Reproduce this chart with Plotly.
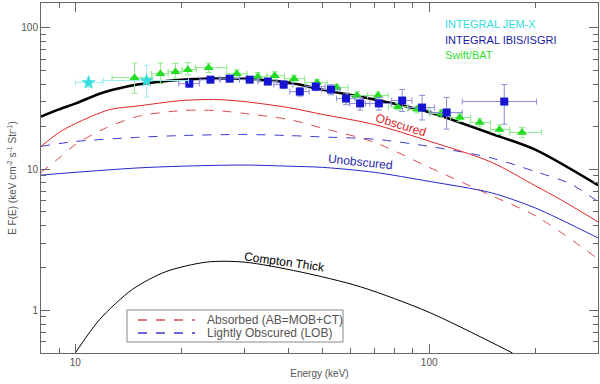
import numpy as np
import plotly.graph_objects as go

# ---- data ----
# model curves (energy in keV, E F(E))
total_e = [8, 9, 10, 12, 15, 20, 25, 30, 40, 50, 70, 100, 150, 200, 300]
total_f = [23.6, 26.5, 29.1, 34.9, 39.7, 43.0, 43.8, 43.7, 41.0, 36.5, 31.1, 25.3, 17.8, 13.7, 7.7]

obsc_e = [8, 9, 10, 12.5, 15, 20, 25, 30, 40, 50, 70, 100, 150, 200, 235, 300]
obsc_f = [14.5, 18.2, 21.0, 26.4, 28.0, 30.6, 31.1, 30.1, 27.3, 24.4, 20.7, 15.8, 11.2, 7.6, 6.1, 4.24]

unobsc_e = [8, 10, 15, 20, 30, 40, 50, 70, 100, 150, 200, 300]
unobsc_f = [9.07, 9.5, 10.2, 10.5, 10.7, 10.5, 10.3, 9.5, 8.2, 6.8, 5.3, 3.26]

absorbed_e = [8, 9, 10, 12, 15, 20, 25, 30, 40, 50, 70, 100, 150, 200, 300]
absorbed_f = [9.5, 12.0, 14.9, 19.2, 23.6, 26.0, 26.0, 24.8, 22.5, 19.5, 15.5, 10.3, 6.5, 4.67, 2.32]

lob_e = [8, 10, 15, 20, 30, 40, 50, 70, 100, 150, 200, 250, 300]
lob_f = [14.5, 15.7, 16.8, 17.3, 17.6, 17.3, 16.9, 16.3, 14.5, 12.0, 9.6, 7.9, 5.9]

ct_e = [10, 11.7, 14.5, 18, 23.5, 30, 43, 64, 100, 172]
ct_f = [0.5, 0.86, 1.41, 1.88, 2.2, 2.2, 1.88, 1.47, 0.97, 0.5]

# INTEGRAL JEM-X
jemx_e = [10.9, 15.9]
jemx_f = [41.0, 42.4]
jemx_elo = [0.9, 3.9]
jemx_ehi = [1.0, 5.0]
jemx_flo = [3.2, 10.0]
jemx_fhi = [3.5, 12.0]

# INTEGRAL IBIS/ISGRI
isgri_e = [21.0, 24.1, 27.3, 31.1, 35.0, 38.8, 43.1, 47.8, 52.8, 58.2, 63.8, 72.1, 83.9, 95.5, 112, 163]
isgri_f = [40.3, 43.0, 43.7, 43.0, 41.7, 39.7, 35.4, 38.4, 36.6, 31.6, 29.2, 29.2, 30.6, 27.3, 25.2, 30.1]
isgri_elo = [1.4, 1.6, 1.8, 2.0, 2.2, 2.4, 2.7, 3.0, 3.2, 3.5, 4.2, 6.0, 5.5, 8.0, 11, 39]
isgri_ehi = [1.4, 1.6, 1.8, 2.0, 2.2, 2.4, 2.7, 3.0, 3.2, 3.5, 4.2, 6.0, 5.5, 8.0, 12, 38]
isgri_flo = [2.0, 2.0, 2.0, 2.0, 2.0, 2.5, 2.5, 2.5, 3.0, 3.0, 3.0, 3.0, 5.0, 5.0, 6.0, 9.3]
isgri_fhi = [2.0, 2.0, 2.0, 2.0, 2.0, 2.5, 2.5, 2.5, 3.0, 3.0, 3.0, 3.0, 6.0, 6.0, 7.0, 9.6]

# Swift/BAT
bat_e = [14.7, 17.4, 19.2, 20.8, 23.8, 28.6, 32.8, 36.6, 41.5, 48.2, 54.8, 62.5, 71.7, 81.7, 92.5, 108, 122, 139, 158, 183]
bat_f = [44.4, 47.4, 49.0, 50.6, 52.3, 47.4, 45.2, 45.9, 43.7, 41.0, 37.8, 33.2, 33.2, 27.7, 26.5, 24.8, 23.2, 21.4, 19.1, 18.2]
bat_elo = [2.0, 1.0, 0.9, 0.8, 2.0, 1.8, 2.2, 1.8, 2.5, 3.7, 3.3, 3.7, 4.7, 5.0, 5.5, 8.0, 7.0, 8.0, 9.0, 14]
bat_ehi = [1.8, 0.9, 0.8, 1.2, 3.0, 2.0, 2.0, 2.4, 3.0, 3.3, 4.2, 4.5, 5.0, 5.3, 7.5, 7.0, 9.0, 10, 11, 25]
bat_flo = [10, 7, 5, 4, 4, 3, 3, 3, 2.5, 2, 2, 2, 2, 1.5, 1.5, 1.5, 1.5, 1.5, 1.5, 1.5]
bat_fhi = [12, 9, 7, 6, 4, 3, 3, 3, 2.5, 2, 2, 2, 2, 1.5, 1.5, 1.5, 1.5, 1.5, 1.5, 1.5]

x_major = [10, 100]
x_minor = [8, 9, 20, 30, 40, 50, 60, 70, 80, 90, 200, 300]
y_major = [1, 10, 100]
y_minor = [0.5, 0.6, 0.7, 0.8, 0.9, 2, 3, 4, 5, 6, 7, 8, 9, 20, 30, 40, 50, 60, 70, 80, 90]

legend_labels = ['Absorbed (AB=MOB+CT)', 'Lightly Obscured (LOB)']
legend_colors = ['#e04848', '#3a3ad0']

AXIS_GRAY = '#666666'
TEXT_GRAY = '#555555'
FONT = 'Liberation Sans, Arial, sans-serif'

fig = go.Figure()

# model curves
fig.add_trace(go.Scatter(x=ct_e, y=ct_f, mode='lines', line=dict(color='black', width=1, shape='spline', smoothing=0.8)))
fig.add_trace(go.Scatter(x=absorbed_e, y=absorbed_f, mode='lines',
                         line=dict(color=legend_colors[0], width=1, dash='dash', shape='spline', smoothing=0.8)))
fig.add_trace(go.Scatter(x=lob_e, y=lob_f, mode='lines',
                         line=dict(color=legend_colors[1], width=1, dash='dash', shape='spline', smoothing=0.8)))
fig.add_trace(go.Scatter(x=unobsc_e, y=unobsc_f, mode='lines', line=dict(color='#2626c8', width=1, shape='spline', smoothing=0.8)))
fig.add_trace(go.Scatter(x=obsc_e, y=obsc_f, mode='lines', line=dict(color='#e02424', width=1, shape='spline', smoothing=0.8)))
fig.add_trace(go.Scatter(x=total_e, y=total_f, mode='lines', line=dict(color='black', width=2.5, shape='spline', smoothing=0.8)))

# data points
fig.add_trace(go.Scatter(
    x=bat_e, y=bat_f, mode='markers',
    marker=dict(symbol='triangle-up', size=9, color='#22dd22'),
    error_x=dict(type='data', symmetric=False, array=bat_ehi, arrayminus=bat_elo, color='#8fe88f', thickness=1, width=3),
    error_y=dict(type='data', symmetric=False, array=bat_fhi, arrayminus=bat_flo, color='#8fe88f', thickness=1, width=3),
))
fig.add_trace(go.Scatter(
    x=isgri_e, y=isgri_f, mode='markers',
    marker=dict(symbol='square', size=8, color='#1414d2'),
    error_x=dict(type='data', symmetric=False, array=isgri_ehi, arrayminus=isgri_elo, color='#8c8cd8', thickness=1, width=3),
    error_y=dict(type='data', symmetric=False, array=isgri_fhi, arrayminus=isgri_flo, color='#8c8cd8', thickness=1, width=3),
))
fig.add_trace(go.Scatter(
    x=jemx_e, y=jemx_f, mode='markers',
    marker=dict(symbol='star', size=11, color='#33dddd'),
    error_x=dict(type='data', symmetric=False, array=jemx_ehi, arrayminus=jemx_elo, color='#a0eeee', thickness=1, width=3),
    error_y=dict(type='data', symmetric=False, array=jemx_fhi, arrayminus=jemx_flo, color='#a0eeee', thickness=1, width=3),
))

# curve labels
fig.add_annotation(x=np.log10(83), y=np.log10(20.7), text='Obscured', showarrow=False, textangle=17,
                   font=dict(family=FONT, size=12, color='#e02424'))
fig.add_annotation(x=np.log10(63.8), y=np.log10(11.3), text='Unobscured', showarrow=False, textangle=6,
                   font=dict(family=FONT, size=12, color='#2626a8'))
fig.add_annotation(x=np.log10(39.1), y=np.log10(2.22), text='Compton Thick', showarrow=False, textangle=8,
                   font=dict(family=FONT, size=12, color='black'))

# instrument key, top right
for label, colour, ypos in [('INTEGRAL JEM-X', '#33dddd', 0.94),
                            ('INTEGRAL IBIS/ISGRI', '#1a1aaa', 0.895),
                            ('Swift/BAT', '#33dd33', 0.851)]:
    fig.add_annotation(xref='paper', yref='paper', x=0.722, y=ypos, xanchor='left', yanchor='middle',
                       text=label, showarrow=False, font=dict(family=FONT, size=11, color=colour))

# boxed key for the dashed components, bottom left
fig.add_shape(type='rect', xref='paper', yref='paper', x0=0.1544, x1=0.5422, y0=0.0314, y1=0.1229,
              line=dict(color='#888888', width=1), fillcolor='white', layer='above')
for label, colour, ypos in zip(legend_labels, legend_colors, [0.0943, 0.0571]):
    fig.add_shape(type='line', xref='paper', yref='paper', x0=0.1741, x1=0.2765, y0=ypos, y1=ypos,
                  line=dict(color=colour, width=1.5, dash='dash'), layer='above')
    fig.add_annotation(xref='paper', yref='paper', x=0.2944, y=ypos, xanchor='left', yanchor='middle',
                       text=label, showarrow=False, font=dict(family=FONT, size=12, color=TEXT_GRAY))

axis_common = dict(
    type='log', showgrid=False, zeroline=False, showline=True, linecolor=AXIS_GRAY, linewidth=1,
    mirror='ticks', ticks='inside', ticklen=9, tickcolor=AXIS_GRAY, tickwidth=1, automargin=False,
    tickfont=dict(family=FONT, size=10, color=TEXT_GRAY),
)

fig.update_xaxes(**axis_common, range=[np.log10(8), np.log10(300)], tickmode='array', tickvals=x_major,
                 ticktext=[str(v) for v in x_major],
                 minor=dict(tickmode='array', tickvals=x_minor, ticks='inside', ticklen=5, tickcolor=AXIS_GRAY, showgrid=False),
                 title=dict(text='Energy (keV)', font=dict(family=FONT, size=10, color=TEXT_GRAY), standoff=2))
fig.update_yaxes(**axis_common, range=[np.log10(0.5), np.log10(150)], tickmode='array', tickvals=y_major,
                 ticktext=[str(v) for v in y_major],
                 minor=dict(tickmode='array', tickvals=y_minor, ticks='inside', ticklen=5, tickcolor=AXIS_GRAY, showgrid=False),
                 title=dict(text='E F(E) (keV cm<sup>-2</sup> s<sup>-1</sup> Str<sup>-1</sup>)',
                            font=dict(family=FONT, size=10, color=TEXT_GRAY), standoff=2))

fig.update_layout(
    width=600, height=384,
    margin=dict(l=41, r=2, t=3, b=31),
    plot_bgcolor='white', paper_bgcolor='white',
    showlegend=False,
)

# the page's default body margin would push the figure off the window
fig.write_html("out.html", config={'displayModeBar': False},
               post_script="document.body.style.margin='0px';")
